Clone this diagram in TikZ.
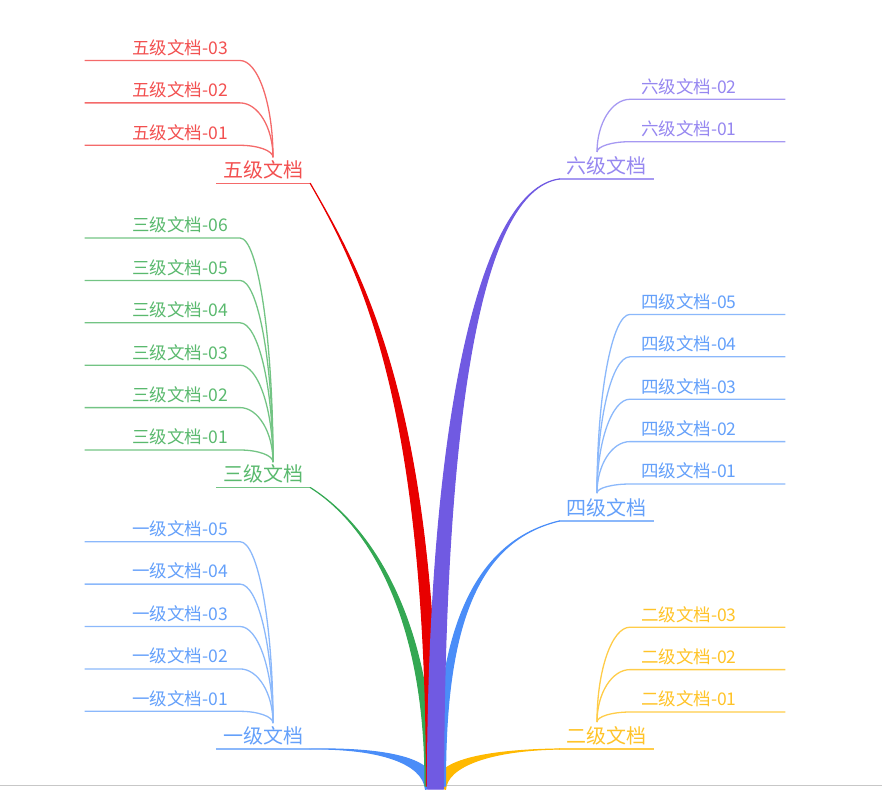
\documentclass[tikz,border=0pt]{standalone}
\usepackage{fontspec}
\newfontfamily\cjkfont{Noto Sans CJK SC}
\usetikzlibrary{positioning,calc}

\definecolor{wub}{RGB}{232,0,0}
\definecolor{wul}{RGB}{242,80,80}
\definecolor{liub}{RGB}{112,90,226}
\definecolor{liul}{RGB}{150,135,240}
\definecolor{sanb}{RGB}{52,168,83}
\definecolor{sanl}{RGB}{90,185,110}
\definecolor{sib}{RGB}{74,141,248}
\definecolor{sil}{RGB}{100,160,250}
\definecolor{erb}{RGB}{255,185,0}
\definecolor{erl}{RGB}{255,195,40}

% tapered branch: colour, tip, control near tip, control near root, root, half width
\newcommand{\branchfill}[6]{%
  \filldraw[#1, line width=1.2pt, line join=round] (#2) .. controls (#3) and ($(#4)-(#6)$) .. ($(#5)-(#6)$)
    -- ($(#5)+(#6)$) .. controls ($(#4)+(#6)$) and (#3) .. (#2) -- cycle;}

\begin{document}
\begin{tikzpicture}[x=1pt, y=-1pt, node distance=42.4pt,
  leafL/.style={anchor=south east, text width=131pt, align=right, inner xsep=12pt, inner ysep=6pt, text height=13pt, text depth=0pt, font=\cjkfont\fontsize{17.5}{20}\selectfont},
  leafR/.style={anchor=south west, text width=133pt, align=left, inner xsep=11pt, inner ysep=6pt, text height=13pt, text depth=0pt, font=\cjkfont\fontsize{17.5}{20}\selectfont},
  topic/.style={anchor=south, minimum width=94pt, inner xsep=0pt, inner ysep=5.5pt, text height=14.5pt, text depth=0pt, font=\cjkfont\fontsize{20}{22}\selectfont},
  leafline/.style={line width=1.3pt}]

  \useasboundingbox (0,0) rectangle (882,789);
  \draw[black!22, line width=1.5pt] (0,785.5) -- (882,785.5);

  % topics
  \node[topic, text=wul] (wu) at (263,183.3) {五级文档};
  \node[topic, text=sanl] (san) at (263,487.5) {三级文档};
  \node[topic, text=sil] (yi) at (263,749) {一级文档};
  \node[topic, text=liul] (liu) at (606.5,179) {六级文档};
  \node[topic, text=sil] (si) at (606.5,521) {四级文档};
  \node[topic, text=erl] (er) at (606.5,749) {二级文档};

  \coordinate (wu-s) at ([xshift=10pt, yshift=26pt]wu.south);
  \coordinate (san-s) at ([xshift=10pt, yshift=25.5pt]san.south);
  \coordinate (yi-s) at ([xshift=10pt, yshift=26pt]yi.south);
  \coordinate (liu-s) at ([xshift=-9.5pt, yshift=27pt]liu.south);
  \coordinate (si-s) at ([xshift=-9.5pt, yshift=28pt]si.south);
  \coordinate (er-s) at ([xshift=-9.5pt, yshift=27pt]er.south);

  % left leaves
  \node[leafL, text=wul] (wu1) at (240,145.3) {五级文档-01};
  \node[leafL, text=wul, above of=wu1] (wu2) {五级文档-02};
  \node[leafL, text=wul, above of=wu2] (wu3) {五级文档-03};

  \node[leafL, text=sanl] (san1) at (240,450) {三级文档-01};
  \node[leafL, text=sanl, above of=san1] (san2) {三级文档-02};
  \node[leafL, text=sanl, above of=san2] (san3) {三级文档-03};
  \node[leafL, text=sanl, above of=san3] (san4) {三级文档-04};
  \node[leafL, text=sanl, above of=san4] (san5) {三级文档-05};
  \node[leafL, text=sanl, above of=san5] (san6) {三级文档-06};

  \node[leafL, text=sil] (yi1) at (240,711.3) {一级文档-01};
  \node[leafL, text=sil, above of=yi1] (yi2) {一级文档-02};
  \node[leafL, text=sil, above of=yi2] (yi3) {一级文档-03};
  \node[leafL, text=sil, above of=yi3] (yi4) {一级文档-04};
  \node[leafL, text=sil, above of=yi4] (yi5) {一级文档-05};

  % right leaves
  \node[leafR, text=liul] (liu1) at (630,141.7) {六级文档-01};
  \node[leafR, text=liul, above of=liu1] (liu2) {六级文档-02};

  \node[leafR, text=sil] (si1) at (630,484) {四级文档-01};
  \node[leafR, text=sil, above of=si1] (si2) {四级文档-02};
  \node[leafR, text=sil, above of=si2] (si3) {四级文档-03};
  \node[leafR, text=sil, above of=si3] (si4) {四级文档-04};
  \node[leafR, text=sil, above of=si4] (si5) {四级文档-05};

  \node[leafR, text=erl] (er1) at (630,712) {二级文档-01};
  \node[leafR, text=erl, above of=er1] (er2) {二级文档-02};
  \node[leafR, text=erl, above of=er2] (er3) {二级文档-03};

  % underlines and twigs
  \draw[leafline, wul!85] (wu.south west) -- (wu.south east);
  \draw[leafline, sanl!85] (san.south west) -- (san.south east);
  \draw[leafline, sil!75] (yi.south west) -- (yi.south east);
  \draw[leafline, liul!85] (liu.south west) -- (liu.south east);
  \draw[leafline, sil!75] (si.south west) -- (si.south east);
  \draw[leafline, erl!85] (er.south west) -- (er.south east);

  \foreach \n in {wu1,wu2,wu3}
    \draw[leafline, wul!85] (\n.south west) -- (\n.south east)
      .. controls +(18,0) and ($(wu-s)!0.55!(wu-s |- \n.south east)$) .. (wu-s);
  \foreach \n in {san1,san2,san3,san4,san5,san6}
    \draw[leafline, sanl!85] (\n.south west) -- (\n.south east)
      .. controls +(18,0) and ($(san-s)!0.55!(san-s |- \n.south east)$) .. (san-s);
  \foreach \n in {yi1,yi2,yi3,yi4,yi5}
    \draw[leafline, sil!75] (\n.south west) -- (\n.south east)
      .. controls +(18,0) and ($(yi-s)!0.55!(yi-s |- \n.south east)$) .. (yi-s);
  \foreach \n in {liu1,liu2}
    \draw[leafline, liul!85] (\n.south east) -- (\n.south west)
      .. controls +(-18,0) and ($(liu-s)!0.55!(liu-s |- \n.south west)$) .. (liu-s);
  \foreach \n in {si1,si2,si3,si4,si5}
    \draw[leafline, sil!75] (\n.south east) -- (\n.south west)
      .. controls +(-18,0) and ($(si-s)!0.55!(si-s |- \n.south west)$) .. (si-s);
  \foreach \n in {er1,er2,er3}
    \draw[leafline, erl!85] (\n.south east) -- (\n.south west)
      .. controls +(-18,0) and ($(er-s)!0.55!(er-s |- \n.south west)$) .. (er-s);

  % main branches
  \branchfill{sib}{yi.south east}{380,748}{428,760}{430,786}{4.5,-3.5}
  \branchfill{erb}{er.south west}{490,750}{442,763}{441,786}{4.5,3.5}
  \branchfill{sanb}{san.south east}{370,525}{430,620}{429,786}{4,0}
  \branchfill{sib}{si.south west}{480,540}{440,620}{441,786}{4.5,0}
  \branchfill{wub}{wu.south east}{360,270}{432,400}{432,786}{5.5,0}
  \branchfill{liub}{liu.south west}{480,190}{436,420}{435.5,789}{8,0}
\end{tikzpicture}
\end{document}
